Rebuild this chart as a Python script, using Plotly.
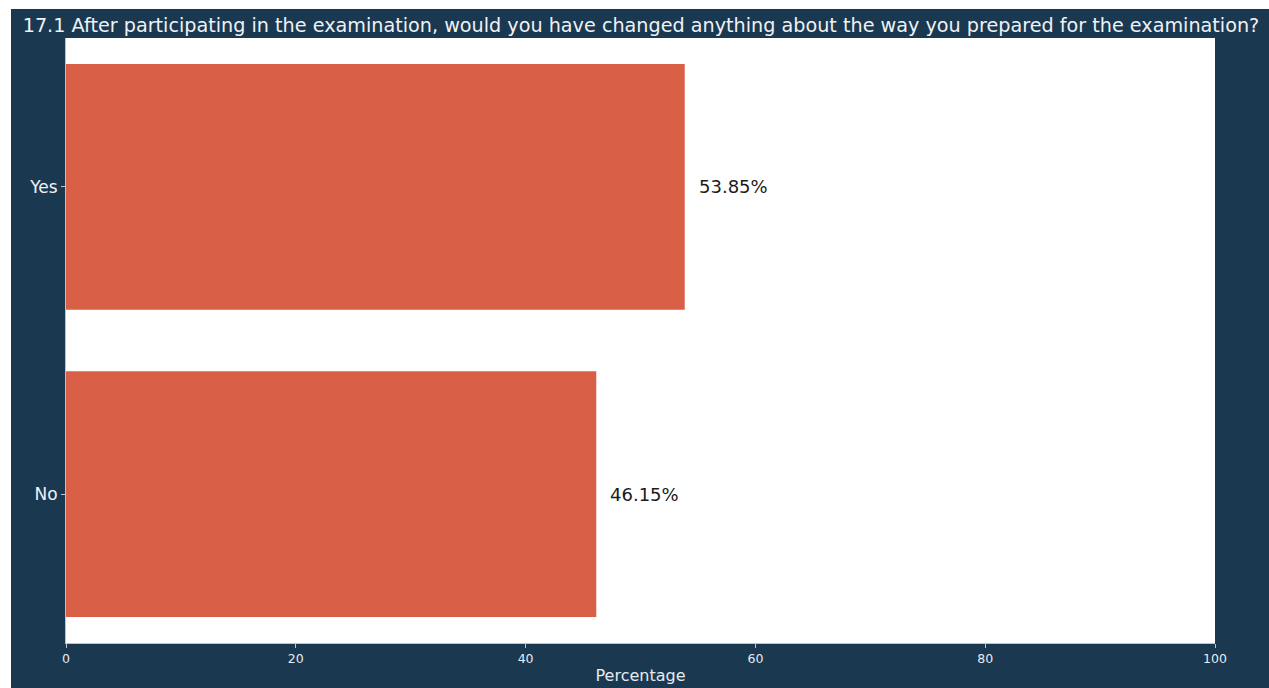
import plotly.graph_objects as go

# Survey responses for question 17.1
categories = ["No", "Yes"]
percentages = [46.15, 53.85]
value_labels = ["46.15%", "53.85%"]
x_ticks = [0, 20, 40, 60, 80, 100]

NAVY = "#1b3851"
BAR = "#d96046"
SPINE = "#b8c4d0"
FONT = "DejaVu Sans"

fig = go.Figure()
fig.add_trace(go.Bar(
    x=percentages,
    y=[0, 1],
    orientation="h",
    width=0.8,
    marker=dict(color=BAR, line=dict(width=0)),
    hoverinfo="x+y",
))

# Value labels just past the end of each bar
for i, (v, t) in enumerate(zip(percentages, value_labels)):
    fig.add_annotation(
        x=v, y=i, text=t, xref="x", yref="y",
        xanchor="left", yanchor="middle", xshift=12,
        showarrow=False, font=dict(family=FONT, size=18, color="#1a1a1a"),
    )

# Dark frame behind the whole figure, leaving a thin white strip top/left
fig.add_shape(
    type="rect", xref="paper", yref="paper",
    x0=-55 / 1149, x1=1.1, y0=-0.2, y1=1 + 29 / 605,
    fillcolor=NAVY, line=dict(width=0), layer="below",
)
# White plotting area on top of the frame
fig.add_shape(
    type="rect", xref="paper", yref="paper",
    x0=0, x1=1, y0=0, y1=1,
    fillcolor="white", line=dict(width=0), layer="below",
)

fig.update_layout(
    width=1269, height=688,
    margin=dict(l=66, r=54, t=38, b=45),
    paper_bgcolor="white",
    plot_bgcolor="white",
    showlegend=False,
    title=dict(
        text="17.1 After participating in the examination, would you have changed anything about the way you prepared for the examination?",
        x=641 / 1269, xref="container", xanchor="center",
        y=1 - 25 / 688, yref="container", yanchor="middle",
        font=dict(family=FONT, size=19.2, color="#eef2f5"),
    ),
    font=dict(family=FONT),
)

fig.update_xaxes(
    range=[0, 100], tickvals=x_ticks, ticktext=[str(t) for t in x_ticks],
    showgrid=False, zeroline=False, automargin=False,
    showline=True, linecolor=SPINE, linewidth=1,
    ticks="outside", ticklen=4, tickcolor=SPINE,
    tickfont=dict(family=FONT, size=12.5, color="#e6ebf0"),
    title=dict(text="Percentage", font=dict(family=FONT, size=16, color="#e6ebf0"), standoff=4),
)
fig.update_yaxes(
    range=[-0.485, 1.485], tickvals=[0, 1], ticktext=categories,
    showgrid=False, zeroline=False, automargin=False,
    showline=True, linecolor=SPINE, linewidth=1,
    ticks="outside", ticklen=4, tickcolor=SPINE,
    tickfont=dict(family=FONT, size=17, color="#eef2f5"),
)

fig.write_html("out.html")
